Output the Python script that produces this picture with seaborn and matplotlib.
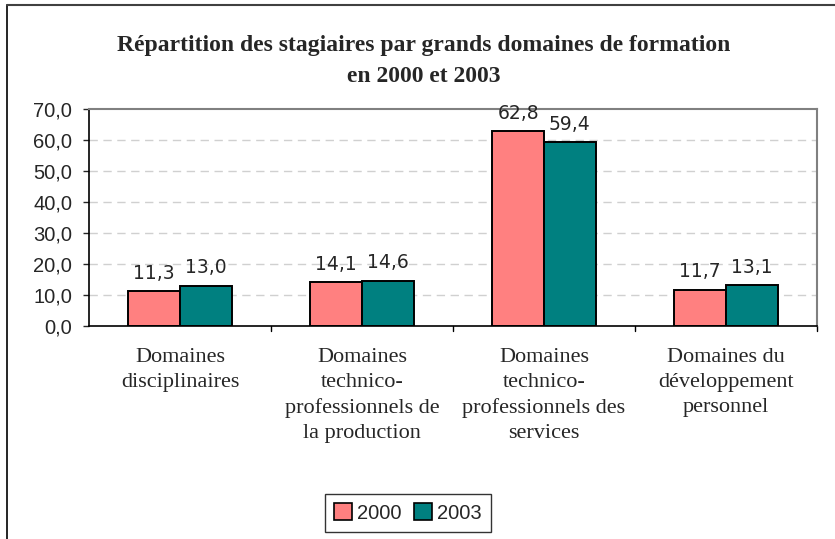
import matplotlib
matplotlib.use("Agg")
import matplotlib.pyplot as plt
import seaborn as sns
import pandas as pd
from matplotlib.patches import Rectangle
from matplotlib.lines import Line2D

categories = ["Domaines\ndisciplinaires",
              "Domaines\ntechnico-\nprofessionnels de\nla production",
              "Domaines\ntechnico-\nprofessionnels des\nservices",
              "Domaines du\ndéveloppement\npersonnel"]
years = ["2000", "2003"]
values_2000 = [11.3, 14.1, 62.8, 11.7]
values_2003 = [13.0, 14.6, 59.4, 13.1]
yticks = [0, 10, 20, 30, 40, 50, 60, 70]
colors = {"2000": "#FF8080", "2003": "#008080"}

df = pd.DataFrame({
    "cat": categories * 2,
    "year": [years[0]] * 4 + [years[1]] * 4,
    "val": values_2000 + values_2003,
})

sns.set_style("white")
fig = plt.figure(figsize=(8.35, 5.39), dpi=100)
ax = fig.add_axes([89/835, 1-326/539, (817-89)/835, (326-109)/539])

sns.barplot(data=df, x="cat", y="val", hue="year", palette=colors,
            width=0.57, edgecolor="black", linewidth=1.4, ax=ax,
            legend=False, saturation=1)

ax.set_ylim(0, 70)
ax.set_xlim(-0.5, 3.5)
ax.set_yticks(yticks)
ax.set_yticklabels([f"{v:.1f}".replace(".", ",") for v in yticks],
                   fontfamily="Liberation Sans", fontsize=14.5)
ax.set_xlabel("")
ax.set_ylabel("")
for y in yticks[1:-1]:
    ax.axhline(y, color="#d0d0d0", linestyle=(0, (6, 4)), linewidth=1, zorder=0)

ax.set_xticks([0, 1, 2, 3])
ax.set_xticklabels(categories, fontfamily="Liberation Serif", fontsize=16,
                   linespacing=1.42, va="top")
ax.tick_params(axis="x", length=0, pad=16)
ax.tick_params(axis="y", length=4, width=1, direction="out", pad=8, left=True)
for b in [0.5, 1.5, 2.5, 3.5]:
    ax.plot([b, b], [0, -0.025], transform=ax.get_xaxis_transform(),
            color="black", lw=1, clip_on=False)

for s in ["left", "bottom"]:
    ax.spines[s].set_color("black")
    ax.spines[s].set_linewidth(1.2)
for s in ["top", "right"]:
    ax.spines[s].set_color("#808080")
    ax.spines[s].set_linewidth(1.5)

for cont in ax.containers:
    labels = [f"{h:.1f}".replace(".", ",") for h in cont.datavalues]
    ax.bar_label(cont, labels=labels, padding=6, fontfamily="DejaVu Sans",
                 fontsize=13.5)

fig.text(424/835, 1-46/539, "Répartition des stagiaires par grands domaines de formation",
         ha="center", va="center", fontfamily="Liberation Serif",
         fontweight="bold", fontsize=17)
fig.text(424/835, 1-76/539, "en 2000 et 2003", ha="center", va="center",
         fontfamily="Liberation Serif", fontweight="bold", fontsize=17)

# outer frame (left and top visible)
fig.add_artist(Line2D([7/835, 7/835], [0, 1-5/539], color="black", lw=1.2,
                      transform=fig.transFigure))
fig.add_artist(Line2D([7/835, 1], [1-5/539, 1-5/539], color="#404040", lw=1.5,
                      transform=fig.transFigure))

handles = [Rectangle((0, 0), 1, 1, facecolor=colors[y], edgecolor="black",
                     linewidth=1.2) for y in years]
leg = fig.legend(handles, years, loc="center", bbox_to_anchor=(408/835, 1-513/539),
                 ncol=2, frameon=True, fancybox=False, edgecolor="black",
                 prop={"family": "Liberation Sans", "size": 14.5},
                 handlelength=0.9, handleheight=0.9, handletextpad=0.25,
                 columnspacing=0.6, borderpad=0.45)
leg.get_frame().set_linewidth(1)

fig.savefig("out.png", dpi=100, facecolor="white")
